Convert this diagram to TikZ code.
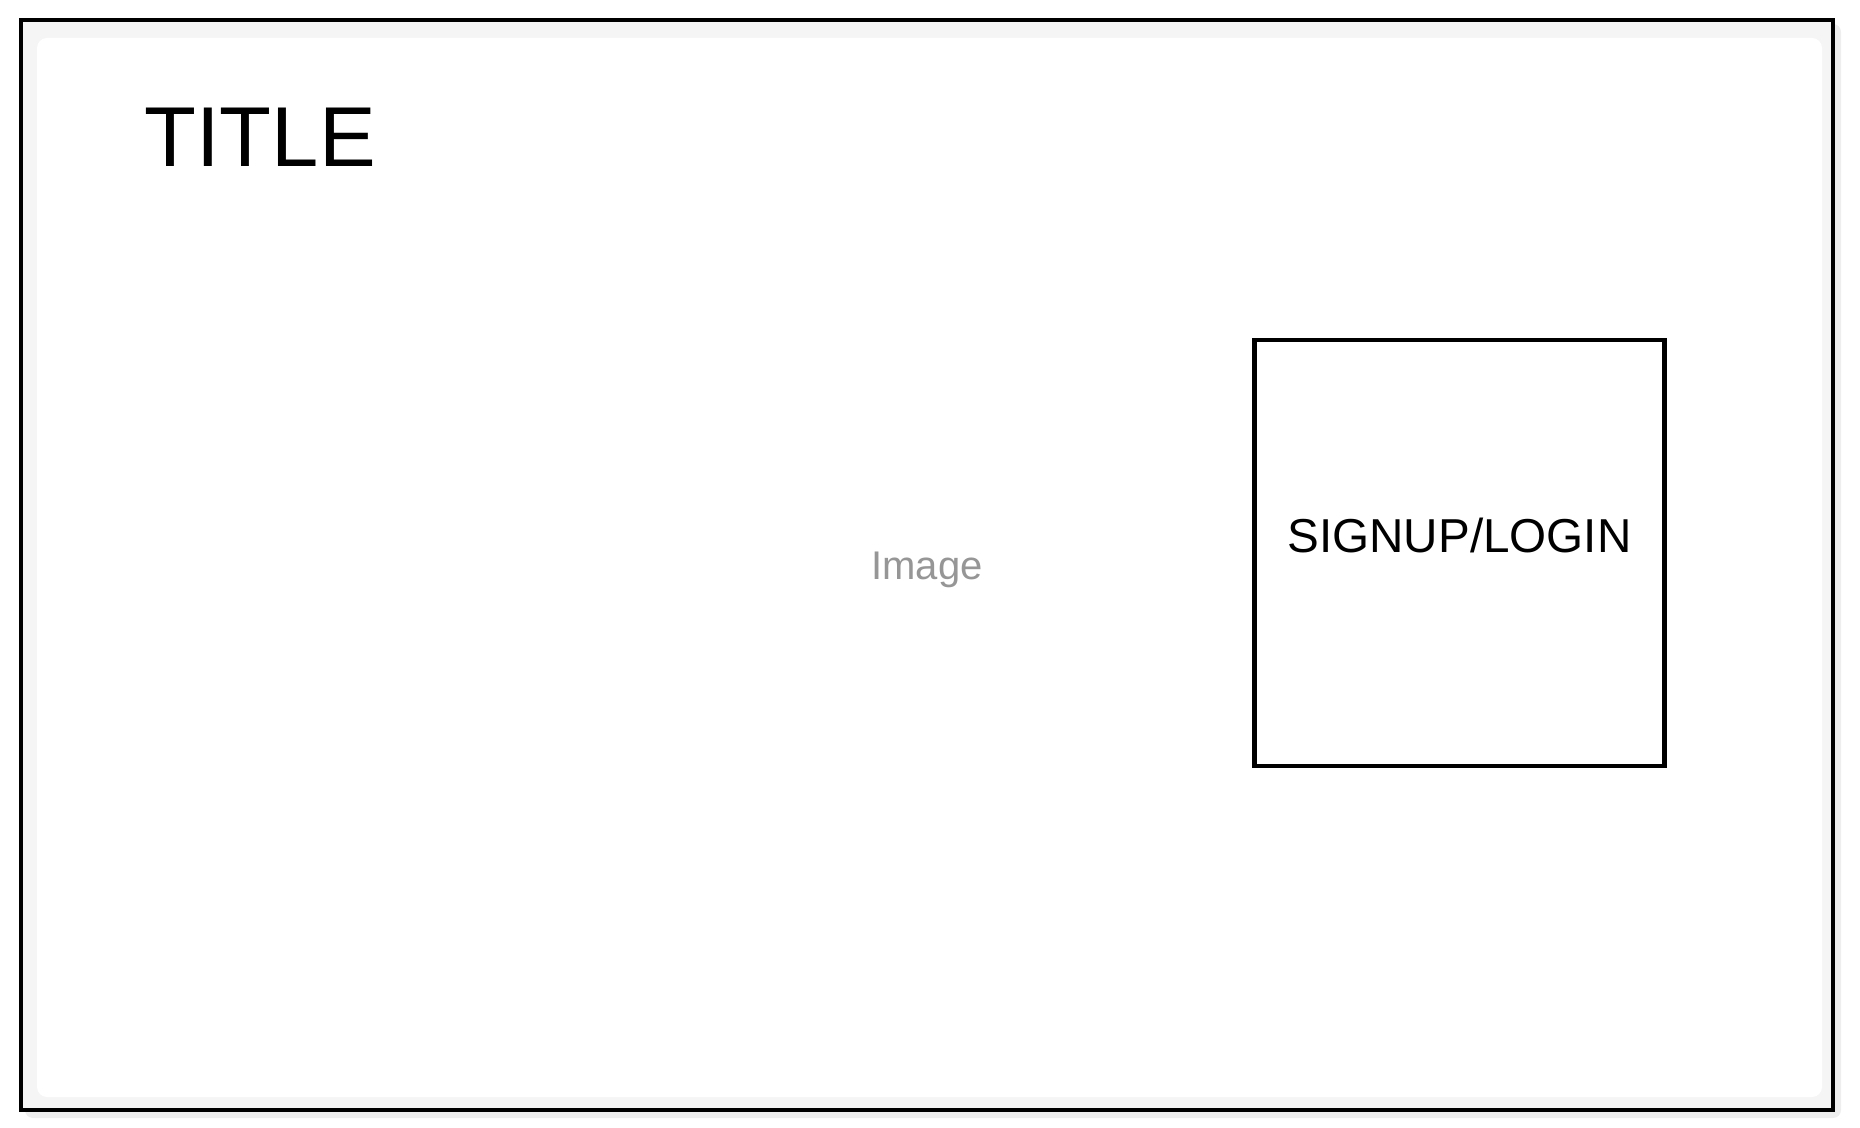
\documentclass[tikz,border=0pt]{standalone}
\usepackage{fontspec}
\setmainfont{Liberation Sans}
\definecolor{panelgrey}{RGB}{245,245,245}
\definecolor{shadowgrey}{RGB}{238,238,238}
\definecolor{imagegrey}{RGB}{150,150,150}

\tikzset{every picture/.style={line width=2pt}}

\begin{document}
\begin{tikzpicture}[x=0.5pt,y=0.5pt,yscale=-1,xscale=1]
\useasboundingbox (0,0) rectangle (1860,1128);

%Shape: Rectangle (shadow)
\fill [shadowgrey, rounded corners=4pt] (25,24) -- (1841,24) -- (1841,1118) -- (25,1118) -- cycle ;
%Shape: Rectangle (frame)
\draw [fill=panelgrey] (21,20) -- (1833,20) -- (1833,1110) -- (21,1110) -- cycle ;
%Rounded Rect (page)
\fill [white, rounded corners=5pt] (37,38) -- (1822,38) -- (1822,1097) -- (37,1097) -- cycle ;

%Shape: Rectangle (login box)
\node (loginbox) [draw, line width=2.2pt, fill=white, minimum width=205pt, minimum height=213pt, inner sep=0pt] at (1459.5,553) {};

% Text Node
\node (title) [inner sep=0pt, font=\fontsize{42.5}{50}\selectfont] at (260,137.5) {TITLE};
% Text Node
\node (image) [anchor=base, inner sep=0pt, text=imagegrey, font=\fontsize{20}{24}\selectfont] at (927,580) {Image};
% Text Node
\node (login) [anchor=base, inner sep=0pt, font=\fontsize{23.8}{28}\selectfont] at (loginbox.center |- 0,553) {SIGNUP/LOGIN};

\end{tikzpicture}
\end{document}
